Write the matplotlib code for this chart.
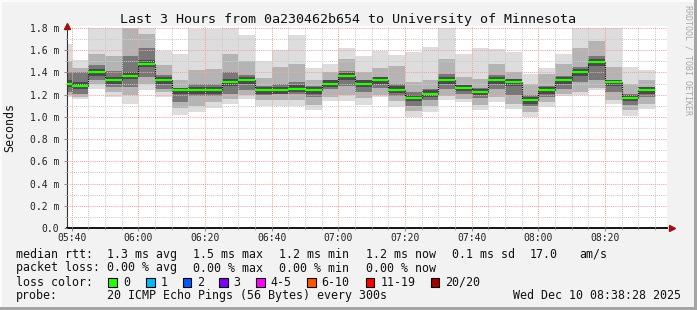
import numpy as np
import pandas as pd
import matplotlib
matplotlib.use("Agg")
import matplotlib.pyplot as plt
import matplotlib.dates as mdates
from matplotlib.patches import Rectangle
from matplotlib.ticker import MultipleLocator, FuncFormatter

# one smoke step every 5 minutes; the first step is cut by the left edge
step_start = pd.date_range("2025-12-10 05:35", periods=36, freq="5min")
t_left = pd.Timestamp("2025-12-10 05:38:28")
t_right = pd.Timestamp("2025-12-10 08:38:28")

# rtt distribution per step (ms)
rtt_min = [1.18, 1.16, 1.25, 1.18, 1.12, 1.24, 1.18, 1.02, 1.04, 1.08, 1.12, 1.16,
           1.10, 1.10, 1.10, 1.06, 1.14, 1.14, 1.11, 1.18, 1.09, 1.00, 1.04, 1.15,
           1.13, 1.06, 1.13, 1.07, 1.00, 1.09, 1.19, 1.20, 1.24, 1.12, 1.01, 1.07]
rtt_p10 = [1.20, 1.18, 1.30, 1.22, 1.20, 1.30, 1.22, 1.08, 1.10, 1.13, 1.16, 1.20,
           1.15, 1.15, 1.15, 1.11, 1.18, 1.20, 1.17, 1.20, 1.14, 1.05, 1.10, 1.19,
           1.16, 1.11, 1.18, 1.12, 1.04, 1.13, 1.21, 1.22, 1.26, 1.15, 1.06, 1.12]
rtt_p25 = [1.22, 1.21, 1.33, 1.27, 1.27, 1.36, 1.25, 1.13, 1.19, 1.19, 1.21, 1.24,
           1.20, 1.21, 1.21, 1.18, 1.25, 1.28, 1.22, 1.26, 1.19, 1.10, 1.15, 1.25,
           1.21, 1.17, 1.25, 1.20, 1.10, 1.18, 1.25, 1.31, 1.33, 1.22, 1.11, 1.18]
rtt_med = [1.30, 1.28, 1.40, 1.33, 1.37, 1.48, 1.33, 1.24, 1.24, 1.24, 1.31, 1.33,
           1.24, 1.24, 1.255, 1.24, 1.30, 1.365, 1.30, 1.33, 1.245, 1.17, 1.21, 1.33,
           1.26, 1.225, 1.33, 1.31, 1.15, 1.24, 1.33, 1.40, 1.49, 1.31, 1.17, 1.24]
rtt_p75 = [1.40, 1.40, 1.47, 1.41, 1.55, 1.62, 1.38, 1.26, 1.30, 1.30, 1.40, 1.38,
           1.28, 1.30, 1.31, 1.28, 1.33, 1.41, 1.33, 1.36, 1.30, 1.22, 1.25, 1.39,
           1.29, 1.26, 1.38, 1.34, 1.20, 1.28, 1.37, 1.45, 1.55, 1.33, 1.21, 1.27]
rtt_p90 = [1.50, 1.44, 1.57, 1.55, 1.80, 1.75, 1.47, 1.33, 1.42, 1.43, 1.57, 1.50,
           1.35, 1.45, 1.48, 1.33, 1.40, 1.52, 1.40, 1.44, 1.46, 1.31, 1.33, 1.52,
           1.36, 1.34, 1.48, 1.40, 1.30, 1.39, 1.48, 1.62, 1.68, 1.45, 1.30, 1.33]
rtt_max = [1.66, 1.51, 1.80, 1.80, 1.80, 1.80, 1.59, 1.57, 1.79, 1.79, 1.80, 1.74,
           1.50, 1.60, 1.74, 1.44, 1.48, 1.62, 1.55, 1.59, 1.56, 1.58, 1.63, 1.80,
           1.57, 1.62, 1.61, 1.58, 1.39, 1.44, 1.57, 1.80, 1.80, 1.80, 1.45, 1.42]

y_ticks = [0.0, 0.2, 0.4, 0.6, 0.8, 1.0, 1.2, 1.4, 1.6, 1.8]

title = "Last 3 Hours from 0a230462b654 to University of Minnesota"
loss_labels = ["0", "1", "2", "3", "4-5", "6-10", "11-19", "20/20"]
loss_colors = ["#26ff00", "#00b8ff", "#0059ff", "#7e00ff", "#ff00ff",
               "#ff5500", "#ff0000", "#a00000"]

W, H = 697, 310
BG = "#f2f2f2"
MONO = "DejaVu Sans Mono"
plt.rcParams["font.family"] = MONO

fig = plt.figure(figsize=(W / 100, H / 100), dpi=100, facecolor=BG)
# plot area in pixels: x 66.7..666.7, y 25.8..228
ax = fig.add_axes([66.7 / W, (H - 228) / H, 600 / W, 202.2 / H])
ax.set_facecolor("white")

x0 = mdates.date2num(step_start)
wd = 5 / 1440.0
lo = np.array(rtt_min); hi = np.array(rtt_max)
p10 = np.array(rtt_p10); p90 = np.array(rtt_p90)
p25 = np.array(rtt_p25); p75 = np.array(rtt_p75)
med = np.array(rtt_med)

# smoke: outer light band, then darker toward the median
ax.bar(x0, hi - lo, bottom=lo, width=wd, align="edge", color="#dddddd", lw=0, zorder=1)
ax.bar(x0, p90 - p10, bottom=p10, width=wd, align="edge", color="#b4b4b4", lw=0, zorder=1)
ax.bar(x0, p75 - p25, bottom=p25, width=wd, align="edge", color="#787878", lw=0, zorder=1)
ax.bar(x0, np.minimum(p75, med + 0.03) - np.maximum(p25, med - 0.03),
       bottom=np.maximum(p25, med - 0.03), width=wd, align="edge",
       color="#4a4a4a", lw=0, zorder=1)

# median steps: green flats, black dotted risers
ax.vlines(x0[1:], med[:-1], med[1:], colors="black", lw=0.8,
          linestyles=(0, (1, 1)), zorder=3)
ax.hlines(med, x0, x0 + wd, colors="#26ff00", lw=1.6, zorder=4)

ax.set_xlim(mdates.date2num(t_left), mdates.date2num(t_right))
ax.set_ylim(0, 1.82)

ax.xaxis.set_major_locator(mdates.MinuteLocator(byminute=[0, 20, 40]))
ax.xaxis.set_minor_locator(mdates.MinuteLocator(byminute=range(0, 60, 5)))
ax.xaxis.set_major_formatter(mdates.DateFormatter("%H:%M"))
ax.set_yticks(y_ticks)
ax.yaxis.set_minor_locator(MultipleLocator(0.1))
ax.yaxis.set_major_formatter(FuncFormatter(lambda v, p: "0.0" if v == 0 else f"{v:.1f} m"))

ax.grid(which="minor", color="#cccccc", lw=0.75, linestyle=(0, (1, 1)))
ax.grid(which="major", color="#f4a4a4", lw=0.75, linestyle=(0, (1, 1)))
ax.set_axisbelow(False)

ax.tick_params(which="major", length=2, width=0.7, color="#888888",
               labelsize=7, labelcolor="#222222")
ax.tick_params(which="minor", length=1.2, width=0.6, color="#aaaaaa")
ax.tick_params(axis="x", pad=1.5)
ax.tick_params(axis="y", pad=3.2)

for s in ("top", "right"):
    ax.spines[s].set_visible(False)
ax.spines["left"].set_color("#333333")
ax.spines["left"].set_linewidth(0.8)
ax.spines["bottom"].set_color("black")
ax.spines["bottom"].set_linewidth(1.3)

# axis arrows
ax.plot([0], [1.0], marker="^", ms=4, color="#a01010", transform=ax.transAxes,
        clip_on=False, zorder=6)
ax.plot([1.008], [0], marker=">", ms=4, color="#a01010", transform=ax.transAxes,
        clip_on=False, zorder=6)

def fx(px):
    return px / W

def fy(py):
    return 1 - py / H

fig.text(fx(348), fy(19), title, ha="center", va="center", fontsize=9.6, color="#111111")
fig.text(fx(10), fy(128), "Seconds", rotation=90, ha="center", va="center",
         fontsize=8.4, color="#111111")
fig.text(fx(688), fy(5), "RRDTOOL / TOBI OETIKER", rotation=270, ha="center", va="top",
         fontsize=6, color="#a8a8a8")

# legend block
fs = 8.4
rows = [
    (254.3, [(16, "median rtt:"), (107, "1.3 ms avg"), (193, "1.5 ms max"),
             (279, "1.2 ms min"), (365.7, "1.2 ms now"), (451.7, "0.1 ms sd"),
             (530, "17.0"), (579, "am/s")]),
    (268, [(16, "packet loss:"), (107, "0.00 % avg"), (193, "0.00 % max"),
           (279, "0.00 % min"), (365.7, "0.00 % now")]),
    (282.3, [(16, "loss color:")]),
    (295.7, [(16, "probe:"), (107, "20 ICMP Echo Pings (56 Bytes) every 300s"),
             (512.7, "Wed Dec 10 08:38:28 2025")]),
]
for yy, items in rows:
    for xx, s in items:
        fig.text(fx(xx), fy(yy), s, ha="left", va="center", fontsize=fs, color="#111111")

box_x = [108.3, 146, 182.7, 219, 256, 307, 365.7, 430.7]
for bx, lab, col in zip(box_x, loss_labels, loss_colors):
    fig.patches.append(Rectangle((fx(bx), fy(286.5)), 8.5 / W, 8.5 / H,
                                 transform=fig.transFigure, facecolor=col,
                                 edgecolor="black", lw=0.8))
    fig.text(fx(bx + 14.5), fy(282.3), lab, ha="left", va="center", fontsize=fs,
             color="#111111")

# bevel frame
fig.patches.append(Rectangle((1 - 3 / W, 0), 3 / W, 1, transform=fig.transFigure,
                             facecolor="#a4a4a4", lw=0))
fig.patches.append(Rectangle((0, 0), 1, 3 / H, transform=fig.transFigure,
                             facecolor="#a4a4a4", lw=0))
fig.patches.append(Rectangle((0, 1 - 2 / H), 1 - 3 / W, 2 / H, transform=fig.transFigure,
                             facecolor="#fbfbfb", lw=0))
fig.patches.append(Rectangle((0, 3 / H), 2 / W, 1, transform=fig.transFigure,
                             facecolor="#fbfbfb", lw=0))

fig.savefig("out.png", dpi=100, facecolor=BG)
